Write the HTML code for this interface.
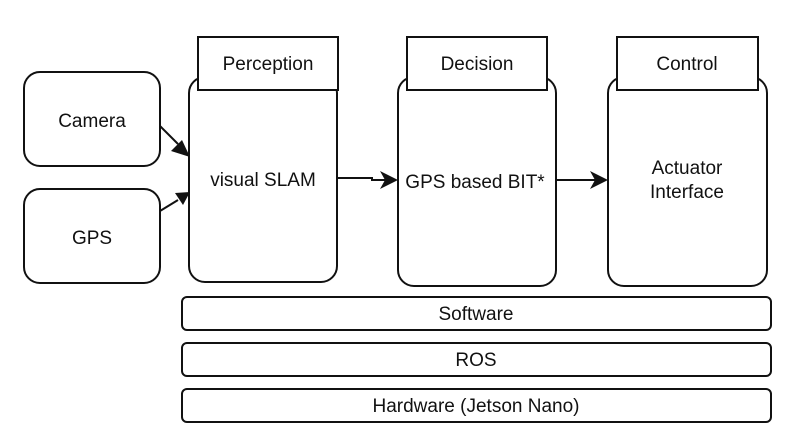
<!DOCTYPE html>
<html><head><meta charset="utf-8"><style>
html,body{margin:0;padding:0;background:#fff;}
svg{display:block;}
text{font-family:"Liberation Sans",Arial,sans-serif;font-size:19px;fill:#111;}
</style></head><body>
<svg width="800" height="442" viewBox="0 0 800 442" xmlns="http://www.w3.org/2000/svg">
<g fill="#fff" stroke="#111" stroke-width="2">
<rect x="24" y="72" width="136" height="94" rx="16"/>
<rect x="24" y="189" width="136" height="94" rx="16"/>
<rect x="189" y="77" width="148" height="205" rx="16"/>
<rect x="398" y="77" width="158" height="209" rx="16"/>
<rect x="608" y="77" width="159" height="209" rx="16"/>
<rect x="198" y="37" width="140" height="53"/>
<rect x="407" y="37" width="140" height="53"/>
<rect x="617" y="37" width="141" height="53"/>
<rect x="182" y="297" width="589" height="33" rx="5"/>
<rect x="182" y="343" width="589" height="33" rx="5"/>
<rect x="182" y="389" width="589" height="33" rx="5"/>
</g>
<g stroke="#111" stroke-width="2" fill="none">
<line x1="160" y1="126" x2="178" y2="144"/>
<line x1="160" y1="211" x2="178" y2="200"/>
<polyline points="337,178 372,178 372,180 388,180"/>
<line x1="556" y1="180" x2="596" y2="180"/>
</g>
<g fill="#111">
<polygon points="190,157 171,151 182,140"/>
<polygon points="190,192 183,205 175,193"/>
<polygon points="398,180 380,171 385,180 380,189"/>
<polygon points="608,180 590,171 595,180 590,189"/>
</g>
<g text-anchor="middle">
<text x="268" y="70">Perception</text>
<text x="477" y="70">Decision</text>
<text x="687" y="70">Control</text>
<text x="92" y="127">Camera</text>
<text x="92" y="244">GPS</text>
<text x="263" y="186">visual SLAM</text>
<text x="475" y="188">GPS based BIT*</text>
<text x="687" y="174">Actuator</text>
<text x="687" y="198">Interface</text>
<text x="476" y="320">Software</text>
<text x="476" y="366">ROS</text>
<text x="476" y="412">Hardware (Jetson Nano)</text>
</g>
</svg>
</body></html>
